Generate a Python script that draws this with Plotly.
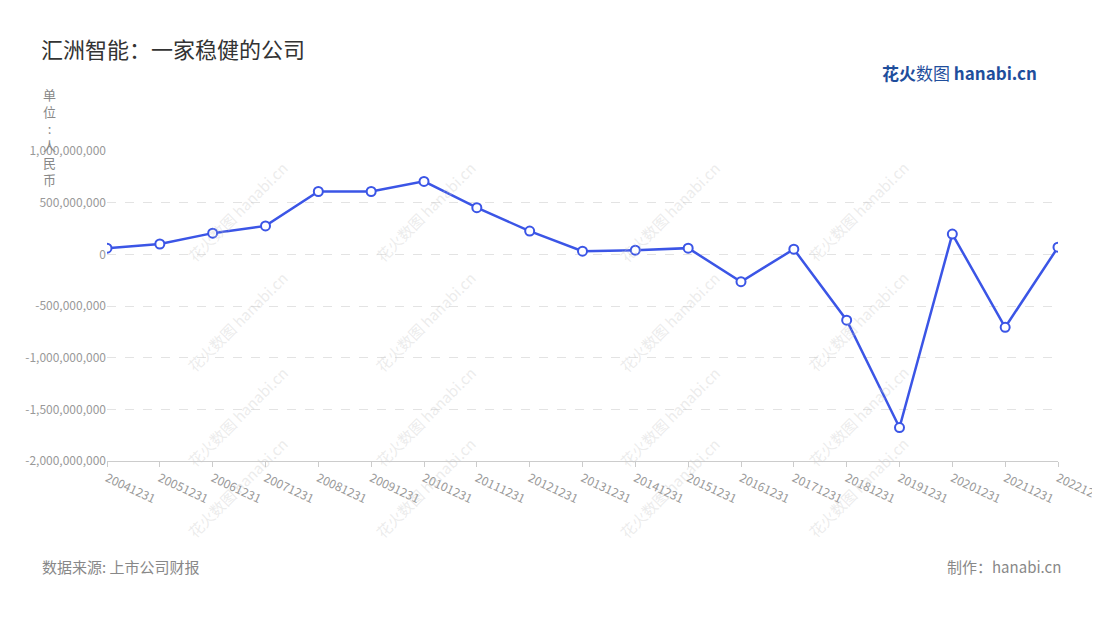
import plotly.graph_objects as go

years = ["20041231", "20051231", "20061231", "20071231", "20081231", "20091231",
         "20101231", "20111231", "20121231", "20131231", "20141231", "20151231",
         "20161231", "20171231", "20181231", "20191231", "20201231", "20211231",
         "20221231"]
profit = [60e6, 100e6, 205e6, 275e6, 608e6, 608e6, 706e6, 451e6, 225e6, 30e6,
          40e6, 60e6, -265e6, 50e6, -637e6, -1676e6, 196e6, -706e6, 69e6]
y_ticks = [1e9, 5e8, 0, -5e8, -1e9, -1.5e9, -2e9]
y_labels = ["1,000,000,000", "500,000,000", "0", "-500,000,000",
            "-1,000,000,000", "-1,500,000,000", "-2,000,000,000"]

fig = go.Figure(go.Scatter(
    x=years, y=profit, mode="lines+markers",
    line=dict(color="#3b55e6", width=2.5),
    marker=dict(size=9, color="white", line=dict(color="#3b55e6", width=2)),
))

# faint watermarks
for wx in [0.077, 0.335, 0.592, 0.85]:
    for wy in [0.99, 0.45, -0.04, -0.27]:
        fig.add_annotation(x=wx, y=wy, xref="paper", yref="paper", showarrow=False,
                           text="花火数图 hanabi.cn", textangle=-45,
                           font=dict(size=15, color="rgba(200,200,200,0.35)"))

fig.update_layout(
    width=1100, height=620, plot_bgcolor="white", paper_bgcolor="white",
    margin=dict(l=99, r=50, t=143, b=167),
    font=dict(family="Noto Sans CJK SC", color="#999"),
    showlegend=False,
    title=dict(text="汇洲智能：一家稳健的公司", x=0.03, xanchor="left", y=0.945,
               font=dict(size=22, color="#333")),
    xaxis=dict(showgrid=False, showline=True, linecolor="#ccc", ticks="outside",
               tickcolor="#ccc", tickangle=25, tickfont=dict(size=12, color="#999"),
               range=[0, 18], zeroline=False, automargin=False, type="category"),
    yaxis=dict(range=[-2e9, 1e9], tickvals=y_ticks, ticktext=y_labels,
               gridcolor="#e3e3e3", griddash="dash", zeroline=False, automargin=False,
               tickfont=dict(size=12, color="#999")),
)
fig.add_annotation(x=-0.06, y=1.22, xref="paper", yref="paper", showarrow=False,
                   xanchor="center", yanchor="top", align="center",
                   text="单<br>位<br>:<br>人<br>民<br>币",
                   font=dict(size=13, color="#888"))
fig.add_annotation(x=-0.07, y=-0.38, xref="paper", yref="paper", showarrow=False,
                   xanchor="left", text="数据来源: 上市公司财报",
                   font=dict(size=15, color="#888"))
fig.add_annotation(x=1.005, y=-0.38, xref="paper", yref="paper", showarrow=False,
                   xanchor="right", text="制作：hanabi.cn",
                   font=dict(size=15, color="#888"))
fig.add_annotation(x=0.98, y=1.30, xref="paper", yref="paper", showarrow=False,
                   xanchor="right",
                   text="<b>花火</b>数图 <b>hanabi.cn</b>",
                   font=dict(size=17, color="#1f4e9c"))
fig.write_html("out.html")
